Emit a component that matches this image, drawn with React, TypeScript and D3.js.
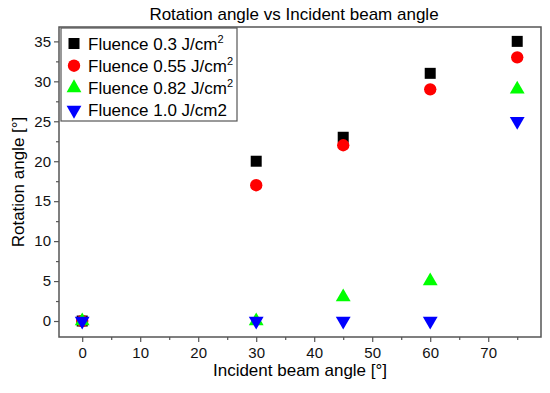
import React, { useEffect, useRef } from "react";
import * as d3 from "d3";

const angles = [0, 30, 45, 60, 75];
const fluence03 = [0, 20, 23, 31, 35];
const fluence055 = [0, 17, 22, 29, 33];
const fluence082 = [0, 0, 3, 5, 29];
const fluence10 = [0, 0, 0, 0, 25];

const seriesNames = ["Fluence 0.3 J/cm", "Fluence 0.55 J/cm", "Fluence 0.82 J/cm", "Fluence 1.0 J/cm2"];
const seriesSup = ["2", "2", "2", ""];
const xTicks = [0, 10, 20, 30, 40, 50, 60, 70];
const yTicks = [0, 5, 10, 15, 20, 25, 30, 35];

const App = () => {
  const ref = useRef<SVGSVGElement>(null);

  useEffect(() => {
    const svg = d3.select(ref.current);
    svg.selectAll("*").remove();

    const left = 59, right = 541, top = 27, bottom = 337;
    const x = d3.scaleLinear().domain([-4, 79.1]).range([left, right]);
    const y = d3.scaleLinear().domain([-2, 36.8]).range([bottom, top]);
    const axisColor = "#555";
    const font = "Arial, 'Liberation Sans', sans-serif";

    // frame
    svg.append("rect")
      .attr("x", left).attr("y", top)
      .attr("width", right - left).attr("height", bottom - top)
      .attr("fill", "none").attr("stroke", axisColor).attr("stroke-width", 1.5);

    // x axis
    const gx = svg.append("g").attr("transform", `translate(0,${bottom})`);
    gx.call(d3.axisBottom(x).tickValues(xTicks).tickSize(5).tickPadding(5).tickFormat(d3.format("d")));
    gx.append("g").call(d3.axisBottom(x).tickValues(d3.range(5, 80, 10)).tickSize(3).tickFormat(() => ""));
    gx.selectAll(".domain").remove();
    gx.selectAll("line").attr("stroke", axisColor).attr("stroke-width", 1.2);
    gx.selectAll("text").attr("font-size", 15).attr("font-family", font).attr("fill", "#111");

    // y axis
    const gy = svg.append("g").attr("transform", `translate(${left},0)`);
    gy.call(d3.axisLeft(y).tickValues(yTicks).tickSize(5).tickPadding(3).tickFormat(d3.format("d")));
    gy.append("g").call(d3.axisLeft(y).tickValues(d3.range(-2.5, 37, 5).filter((v) => v > -2)).tickSize(3).tickFormat(() => ""));
    gy.selectAll(".domain").remove();
    gy.selectAll("line").attr("stroke", axisColor).attr("stroke-width", 1.2);
    gy.selectAll("text").attr("font-size", 15).attr("font-family", font).attr("fill", "#111");

    // titles
    svg.append("text").attr("x", 294).attr("y", 20).attr("text-anchor", "middle")
      .attr("font-size", 17).attr("font-family", font).text("Rotation angle vs Incident beam angle");
    svg.append("text").attr("x", 300).attr("y", 376).attr("text-anchor", "middle")
      .attr("font-size", 17).attr("font-family", font).text("Incident beam angle [°]");
    svg.append("text").attr("transform", `translate(24,182) rotate(-90)`)
      .attr("text-anchor", "middle").attr("font-size", 17).attr("font-family", font)
      .text("Rotation angle [°]");

    const series = [
      { values: fluence03, color: "#000000", shape: d3.symbolSquare, size: 121, rot: 0 },
      { values: fluence055, color: "#ff0000", shape: d3.symbolCircle, size: 120, rot: 0 },
      { values: fluence082, color: "#00ff00", shape: d3.symbolTriangle, size: 95, rot: 0 },
      { values: fluence10, color: "#0000ff", shape: d3.symbolTriangle, size: 95, rot: 180 },
    ];

    series.forEach((s) => {
      svg.append("g").selectAll("path")
        .data(s.values)
        .join("path")
        .attr("d", d3.symbol().type(s.shape).size(s.size)())
        .attr("transform", (v, i) => `translate(${x(angles[i])},${y(v)}) rotate(${s.rot})`)
        .attr("fill", s.color);
    });

    // legend
    const lg = svg.append("g");
    lg.append("rect").attr("x", 61).attr("y", 28).attr("width", 176).attr("height", 93)
      .attr("fill", "white").attr("stroke", axisColor).attr("stroke-width", 1.2);
    series.forEach((s, i) => {
      const base = 49.5 + i * 22.2;
      lg.append("path")
        .attr("d", d3.symbol().type(s.shape).size(s.size)())
        .attr("transform", `translate(74,${base - 6}) rotate(${s.rot})`)
        .attr("fill", s.color);
      const t = lg.append("text").attr("x", 88).attr("y", base)
        .attr("font-size", 17).attr("font-family", font).text(seriesNames[i]);
      if (seriesSup[i]) {
        t.append("tspan").attr("dy", -7).attr("font-size", 11).text(seriesSup[i]);
      }
    });
  }, []);

  return (
    <svg ref={ref} width={550} height={393} style={{ position: "absolute", left: 0, top: 0, background: "white" }} />
  );
};

export default App;
